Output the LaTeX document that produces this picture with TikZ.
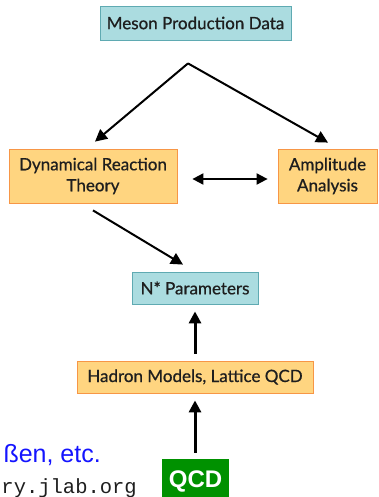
\documentclass[tikz,border=0pt]{standalone}
\usepackage{fontspec}
\setmainfont{Lato}
\newfontfamily\boxf{Lato}[UprightFeatures={FakeBold=0.7}]
\newfontfamily\arialf{Liberation Sans}
\newfontfamily\monof{Liberation Mono}
\usetikzlibrary{arrows.meta}
\definecolor{tealfill}{HTML}{ABDCE0}
\definecolor{tealline}{HTML}{5FAAB2}
\definecolor{orfill}{HTML}{FFD580}
\definecolor{orline}{HTML}{F79646}
\definecolor{qcdgreen}{HTML}{009100}
\definecolor{txt}{HTML}{1E1E1E}
\begin{document}
\begin{tikzpicture}[x=1pt,y=-1pt,
  tealbox/.style={draw=tealline,fill=tealfill,line width=0.8pt,inner sep=0pt,text=txt,font=\boxf\fontsize{17}{20}\selectfont},
  orbox/.style={draw=orline,fill=orfill,line width=0.8pt,inner sep=0pt,text=txt,align=center,font=\boxf\fontsize{17}{21}\selectfont},
  arr/.style={-{Triangle[length=12pt,width=12pt]},line width=2pt,black},
  varr/.style={-{Triangle[length=12pt,width=12pt]},line width=3pt,black},
  darr/.style={{Triangle[length=11pt,width=11pt]}-{Triangle[length=11pt,width=11pt]},line width=2pt,black}]
\useasboundingbox (0,0) rectangle (378,497);
\begin{scope}
\clip (0,0) rectangle (378,497);
\node[tealbox,minimum width=191pt,minimum height=34pt] (meson) at (195.5,23) {Meson Production Data};
\node[orbox,minimum width=168pt,minimum height=54pt] (dyn) at (93,176) {Dynamical Reaction\\Theory};
\node[orbox,minimum width=99pt,minimum height=54pt] (amp) at (327.5,176) {Amplitude\\Analysis};
\node[tealbox,minimum width=126pt,minimum height=32pt] (nstar) at (195,288) {N* Parameters};
\node[orbox,minimum width=236pt,minimum height=32pt] (hadron) at (195,377) {Hadron Models, Lattice QCD};
\node[fill=qcdgreen,minimum width=67pt,minimum height=44pt,inner sep=0pt,text=white,font=\arialf\bfseries\fontsize{24}{26}\selectfont] (qcd) at (195.5,481) {QCD};
\node[anchor=base east,inner sep=0pt,text={rgb,255:red,20;green,20;blue,255},font=\arialf\fontsize{25}{28}\selectfont] (etc) at (101,462) {ßen, etc.};
\node[anchor=base east,inner sep=0pt,text=txt,font=\monof\fontsize{20.5}{23}\selectfont] (url) at (137,493) {ry.jlab.org};
\coordinate (apex) at ([shift={(-7.5,23)}]meson.south);
\draw[arr] (apex) -- ([shift={(2,-7)}]dyn.north);
\draw[arr] (apex) -- ([shift={(0.5,-6)}]amp.north);
\draw[darr] ([shift={(15,3)}]dyn.east) -- ([shift={(-10,3)}]amp.west);
\draw[arr] ([shift={(0,7)}]dyn.south) -- ([shift={(-12,-7)}]nstar.north);
\draw[varr] ([shift={(0,-7)}]hadron.north) -- ([shift={(0,7)}]nstar.south);
\draw[varr] ([shift={(-0.5,-6)}]qcd.north) -- ([shift={(0,7)}]hadron.south);
\end{scope}
\end{tikzpicture}
\end{document}
